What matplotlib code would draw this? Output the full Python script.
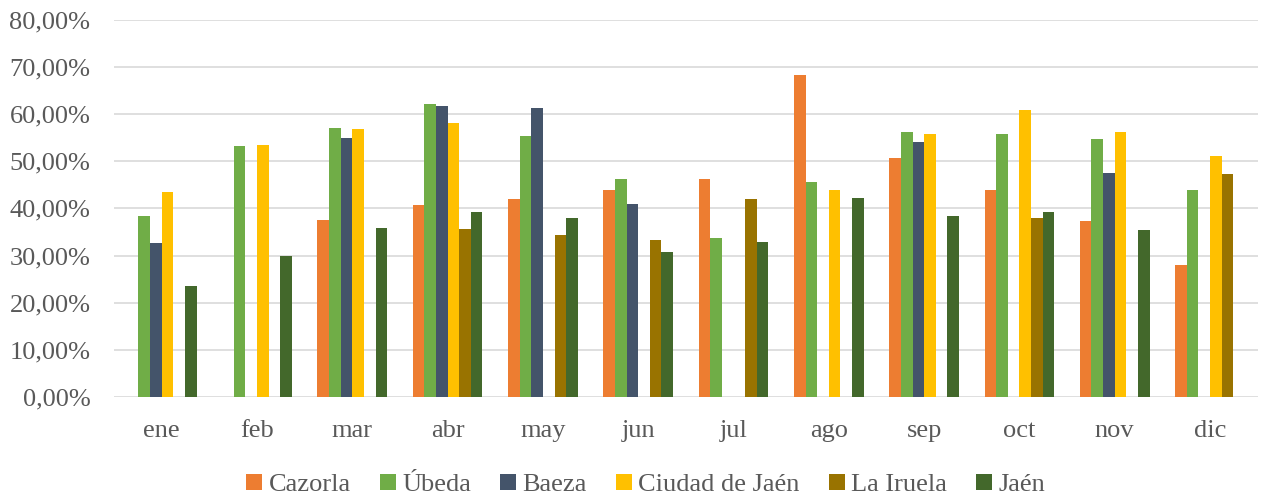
import numpy as np
import matplotlib.pyplot as plt
from matplotlib.ticker import FuncFormatter

# months and series (% values, nan = no data)
months = ["ene", "feb", "mar", "abr", "may", "jun", "jul", "ago", "sep", "oct", "nov", "dic"]
nan = np.nan
cazorla = [nan, nan, 37.6, 40.7, 41.9, 43.9, 46.2, 68.3, 50.8, 44.0, 37.4, 28.0]
ubeda = [38.4, 53.2, 57.1, 62.1, 55.4, 46.2, 33.7, 45.7, 56.2, 55.7, 54.7, 44.0]
baeza = [32.6, nan, 54.9, 61.7, 61.4, 40.9, nan, nan, 54.2, nan, 47.5, nan]
ciudad_jaen = [43.5, 53.4, 56.8, 58.1, nan, nan, nan, 43.9, 55.7, 61.0, 56.2, 51.1]
la_iruela = [nan, nan, nan, 35.7, 34.3, 33.2, 42.1, nan, nan, 38.0, nan, 47.4]
jaen = [23.5, 30.0, 35.8, 39.2, 38.0, 30.7, 32.9, 42.2, 38.4, 39.2, 35.5, nan]

series = [
    ("Cazorla", cazorla, "#ED7D31"),
    ("Úbeda", ubeda, "#70AD47"),
    ("Baeza", baeza, "#44546A"),
    ("Ciudad de Jaén", ciudad_jaen, "#FFC000"),
    ("La Iruela", la_iruela, "#997300"),
    ("Jaén", jaen, "#43682B"),
]

plt.rcParams['font.family'] = ['Liberation Serif', 'DejaVu Serif']

fig = plt.figure(figsize=(12.61, 5.01), dpi=100)
ax = fig.add_axes([0.0904, 0.208, 0.907, 0.752])

x = np.arange(len(months))
w = 0.122
for i, (name, vals, col) in enumerate(series):
    v = np.array(vals, dtype=float) / 100
    ax.bar(x + (i - 2.5) * w, v, width=w, color=col, label=name, zorder=3)

ax.set_xlim(-0.5, len(months) - 0.5)
ax.set_ylim(0, 0.8)
ax.set_yticks(np.arange(0, 0.81, 0.1))
ax.yaxis.set_major_formatter(FuncFormatter(lambda v, p: f"{v*100:.2f}%".replace(".", ",")))
ax.set_xticks(x)
ax.set_xticklabels(months)
ax.grid(axis='y', color='#d9d9d9', linewidth=1.2, zorder=0)
for s in ax.spines.values():
    s.set_visible(False)
ax.tick_params(axis='both', length=0, labelsize=19, colors='#595959')
ax.tick_params(axis='x', pad=17)
ax.tick_params(axis='y', pad=17)

fig.legend(loc='center', bbox_to_anchor=(0.512, 0.032), ncol=6, frameon=False,
           fontsize=19, handlelength=0.6, handleheight=0.6, handletextpad=0.25,
           columnspacing=1.1, labelcolor='#595959')

fig.savefig("out.png", dpi=100)
